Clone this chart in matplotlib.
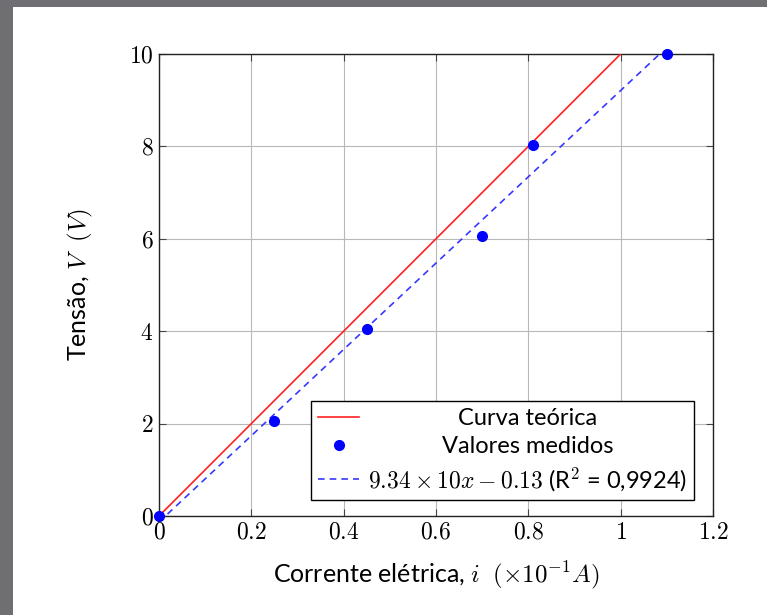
import matplotlib
matplotlib.use("Agg")
import matplotlib.pyplot as plt
from matplotlib.patches import Rectangle
from matplotlib.transforms import Affine2D
import numpy as np

plt.rcParams['mathtext.fontset'] = 'cm'
plt.rcParams['font.family'] = ['Lato', 'DejaVu Sans']
plt.rcParams['axes.unicode_minus'] = False

# Data
corrente = [0.0, 0.25, 0.45, 0.70, 0.81, 1.10]
tensao = [0.0, 2.05, 4.05, 6.05, 8.03, 10.0]
teorica_x = [0.0, 1.0]
teorica_y = [0.0, 10.0]
fit_slope = 9.34
fit_intercept = -0.13
xticks = [0, 0.2, 0.4, 0.6, 0.8, 1, 1.2]
yticks = [0, 2, 4, 6, 8, 10]

fig = plt.figure(figsize=(7.67, 6.15), dpi=100)
fig.patch.set_facecolor('#6f6f73')
fig.patches.append(Rectangle((13/767, 0), 1, 1 - 7/615, transform=fig.transFigure,
                             facecolor='white', edgecolor='none', zorder=-10))

ax = fig.add_axes([159/767, 99/615, 554/767, 462/615])
ax.set_xlim(0, 1.2)
ax.set_ylim(0, 10)

ax.plot(teorica_x, teorica_y, color='#ff2020', lw=1.2, label='Curva teórica', zorder=3)
ax.plot(corrente, tensao, 'o', color='#0000ff', ms=7, label='Valores medidos', clip_on=False, zorder=4)
fx = np.array([0.0, 1.1])
ax.plot(fx, fit_slope * fx + fit_intercept, '--', color='#3838ff', lw=1.2, dashes=(4, 3),
        label=r'$9.34\times10x-0.13$ (R$^2$ = 0,9924)', zorder=3)

ax.set_xticks(xticks)
ax.set_yticks(yticks)
ax.set_xticklabels([f'${t:g}$' for t in xticks])
ax.set_yticklabels([f'${t:g}$' for t in yticks])
ax.tick_params(direction='in', length=5, labelsize=17, top=True, right=True, color='#444444', pad=4)
ax.grid(True, color='#b8b8b8', lw=0.8)
ax.set_axisbelow(True)
for s in ax.spines.values():
    s.set_linewidth(1.0)
    s.set_color('#222222')

ax.set_xlabel(r'Corrente elétrica, $i\ \;(\times10^{-1}A)$', fontsize=18, labelpad=12)
ax.set_ylabel(r'Tensão, $V\ \;(V)$', fontsize=18, labelpad=24)

leg = ax.legend(loc='lower right', bbox_to_anchor=((694 - 159) / 554, (516 - 500) / 462),
                borderaxespad=0, fontsize=17, frameon=True, fancybox=False,
                edgecolor='black', framealpha=1, handlelength=1.75,
                labelspacing=0.32, borderpad=0.3, handletextpad=0.35)
leg.get_frame().set_linewidth(1.0)

# centre the legend labels like the original
fig.canvas.draw()
texts = leg.get_texts()
widths = [t.get_window_extent().width for t in texts]
wmax = max(widths)
for t, w in zip(texts, widths):
    t.set_transform(t.get_transform() + Affine2D().translate((wmax - w) / 2, 0))

fig.savefig('out.png', dpi=100, facecolor=fig.get_facecolor())
